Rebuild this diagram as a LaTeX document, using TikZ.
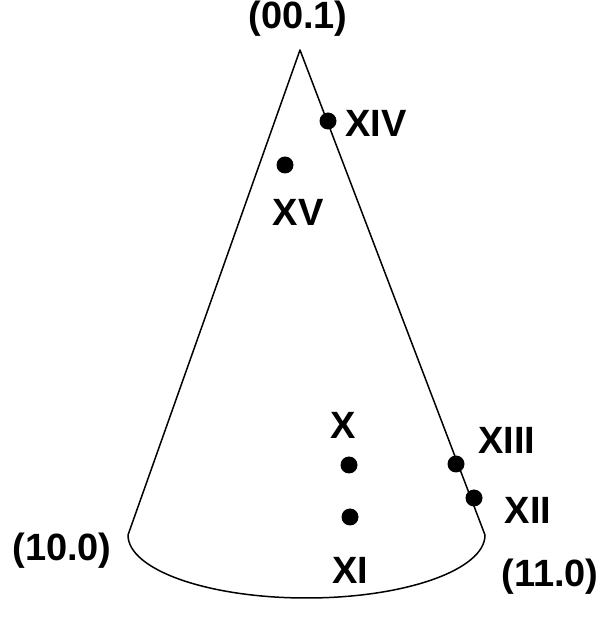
\documentclass[tikz,border=0pt]{standalone}
\usepackage{fontspec}
\setmainfont{Liberation Sans}
\usepackage{tikz}
\usetikzlibrary{positioning,calc}

\begin{document}
\begin{tikzpicture}[x=1pt,y=1pt,
    pt/.style={circle,fill=black,inner sep=0pt,minimum size=17pt},
    lbl/.style={font=\fontsize{38}{44}\selectfont\bfseries,inner sep=0pt},
    edge/.style={line width=1.5pt,line join=round}]
        \useasboundingbox (0,0) rectangle (613,625);
        % cone outline
        \coordinate (apex) at (300,575);
        \coordinate (bl) at (128,90);
        \coordinate (br) at (485,90);
        \draw[edge] (bl) -- (apex) -- (br) arc[start angle=0, end angle=-180, x radius=178.5, y radius=63];
        % corner labels
        \node[lbl] (l001) at (298,606) {(00.1)};
        \node[lbl] (l100) at (62,74) {(10.0)};
        \node[lbl] (l110) at (550,48) {(11.0)};
        % points
        \node[pt] (p14) at (328,504) {};
        \node[pt] (p15) at (285,460) {};
        \node[pt] (p10) at (349,160) {};
        \node[pt] (p11) at (350,108) {};
        \node[pt] (p13) at (456,161) {};
        \node[pt] (p12) at (474,127) {};
        \node[lbl] (l14) at (376,502) {XIV};
        \node[lbl] (l15) at (298,413) {XV};
        \node[lbl] (l10) at (343,200) {X};
        \node[lbl] (l11) at (350,55) {XI};
        \node[lbl] (l13) at (507,185) {XIII};
        \node[lbl] (l12) at (528,115) {XII};
\end{tikzpicture}
\end{document}
